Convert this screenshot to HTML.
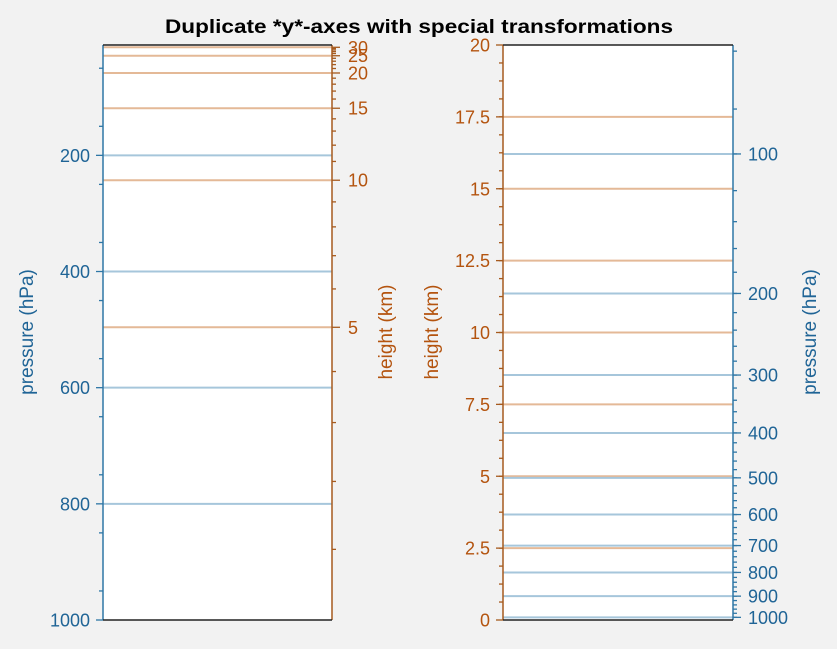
<!DOCTYPE html>
<html><head><meta charset="utf-8"><style>
body{margin:0;background:#f2f2f2;}
svg{display:block;font-family:"Liberation Sans",sans-serif;}
</style></head><body>
<svg id="c" width="837" height="649">
<rect width="837" height="649" fill="#f2f2f2"/>
<text x="419" y="33" text-anchor="middle" font-size="19" font-weight="bold" fill="#000" textLength="508" lengthAdjust="spacingAndGlyphs">Duplicate *y*-axes with special transformations</text>
</svg>
<script>
const leftPressureTicks=[200,400,600,800,1000];
const leftHeightTicks=[5,10,15,20,25,30];
const rightHeightTicks=[0,2.5,5,7.5,10,12.5,15,17.5,20];
const rightHeightLabels=["0","2.5","5","7.5","10","12.5","15","17.5","20"];
const rightPressureTicks=[100,200,300,400,500,600,700,800,900,1000];
const leftPressureLim=[10,1000];
const rightHeightLim=[0,20];
const H=7, P0=1013.25;
const BLUE="#1f6496", BLUEAX="#2e77a6", BLUEL="#a6c6db";
const OR="#b4540f", ORAX="#a65a1e", ORL="#e4b997";
const FS=18;
const svg=document.getElementById('c');
const NS="http://www.w3.org/2000/svg";
function mk(t,a,p){const e=document.createElementNS(NS,t);for(const k in a)e.setAttribute(k,a[k]);(p||svg).appendChild(e);return e;}
const zOf=p=>H*Math.log(P0/p), pOf=z=>P0*Math.exp(-z/H);
const T=45,B=620;
const L={x0:103,x1:332};
const yL=p=>T+(p-leftPressureLim[0])/(leftPressureLim[1]-leftPressureLim[0])*(B-T);
const yR=z=>B-(z-rightHeightLim[0])/(rightHeightLim[1]-rightHeightLim[0])*(B-T);
const R={x0:503,x1:733};
mk('rect',{x:L.x0,y:T,width:L.x1-L.x0,height:B-T,fill:"#fff"});
mk('rect',{x:R.x0,y:T,width:R.x1-R.x0,height:B-T,fill:"#fff"});
function hline(x0,x1,y,c,n){const e=mk('line',{x1:x0,x2:x1,y1:y,y2:y,stroke:c,'stroke-width':2});

}
function tick(x,y,len,c,n){const e=mk('line',{x1:x,x2:x+len,y1:y,y2:y,stroke:c,'stroke-width':1.3});

}
function label(x,y,s,c,anchor,n){const e=mk('text',{x:x,y:y+6.5,'font-size':FS,fill:c,'text-anchor':anchor});e.textContent=s;

}
leftPressureTicks.forEach(p=>{if(p<1000)hline(L.x0,L.x1,yL(p),BLUEL,'pressure-gridline');});
leftHeightTicks.forEach(z=>hline(L.x0,L.x1,yL(pOf(z)),ORL,'height-gridline'));
for(let p=50;p<1000;p+=100)tick(L.x0,yL(p),-4,BLUEAX,'minor-tick');
leftPressureTicks.forEach(p=>{tick(L.x0,yL(p),-7,BLUEAX,'major-tick');label(L.x0-13,yL(p),String(p),BLUE,'end','pressure-tick-label');});
for(let z=1;z<=30;z++){const p=pOf(z);if(yL(p)<T)continue;tick(L.x1,yL(p),leftHeightTicks.includes(z)?8:4,ORAX,'minor-tick');}
leftHeightTicks.forEach(z=>label(L.x1+16,yL(pOf(z)),String(z),OR,'start','height-tick-label'));
mk('line',{x1:L.x0,x2:L.x0,y1:T,y2:B,stroke:BLUEAX,'stroke-width':1.5});
mk('line',{x1:L.x1,x2:L.x1,y1:T,y2:B,stroke:ORAX,'stroke-width':1.5});
mk('line',{x1:L.x0,x2:L.x1,y1:T,y2:T,stroke:"#222",'stroke-width':1.5});
mk('line',{x1:L.x0,x2:L.x1,y1:B,y2:B,stroke:"#222",'stroke-width':1.5});
rightHeightTicks.forEach(z=>{if(z>0&&z<20)hline(R.x0,R.x1,yR(z),ORL,'height-gridline');});
rightPressureTicks.forEach(p=>hline(R.x0,R.x1,yR(zOf(p)),BLUEL,'pressure-gridline'));
for(let z=0.625;z<20;z+=0.625)tick(R.x0,yR(z),-4,ORAX,'minor-tick');
rightHeightTicks.forEach((z,i)=>{tick(R.x0,yR(z),-7,ORAX,'major-tick');label(R.x0-13,yR(z),rightHeightLabels[i],OR,'end','height-tick-label');});
for(let p=20;p<=1000;p+=20){const y=yR(zOf(p));if(y<T)continue;tick(R.x1,y,4,BLUEAX,'minor-tick');}
rightPressureTicks.forEach(p=>{tick(R.x1,yR(zOf(p)),8,BLUEAX,'major-tick');label(R.x1+15,yR(zOf(p)),String(p),BLUE,'start','pressure-tick-label');});
mk('line',{x1:R.x0,x2:R.x0,y1:T,y2:B,stroke:ORAX,'stroke-width':1.5});
mk('line',{x1:R.x1,x2:R.x1,y1:T,y2:B,stroke:BLUEAX,'stroke-width':1.5});
mk('line',{x1:R.x0,x2:R.x1,y1:T,y2:T,stroke:"#222",'stroke-width':1.5});
mk('line',{x1:R.x0,x2:R.x1,y1:B,y2:B,stroke:"#222",'stroke-width':1.5});
function vt(x,y,s,c,n){const e=mk('text',{x:0,y:0,'font-size':19,fill:c,'text-anchor':'middle',transform:`translate(${x},${y}) rotate(-90)`});e.textContent=s;

}
vt(33,332,"pressure (hPa)",BLUE,'left-y-axis-title');
vt(392,332,"height (km)",OR,'left-right-y-axis-title');
vt(438,332,"height (km)",OR,'right-y-axis-title');
vt(816,332,"pressure (hPa)",BLUE,'right-right-y-axis-title');
</script>
</body></html>
